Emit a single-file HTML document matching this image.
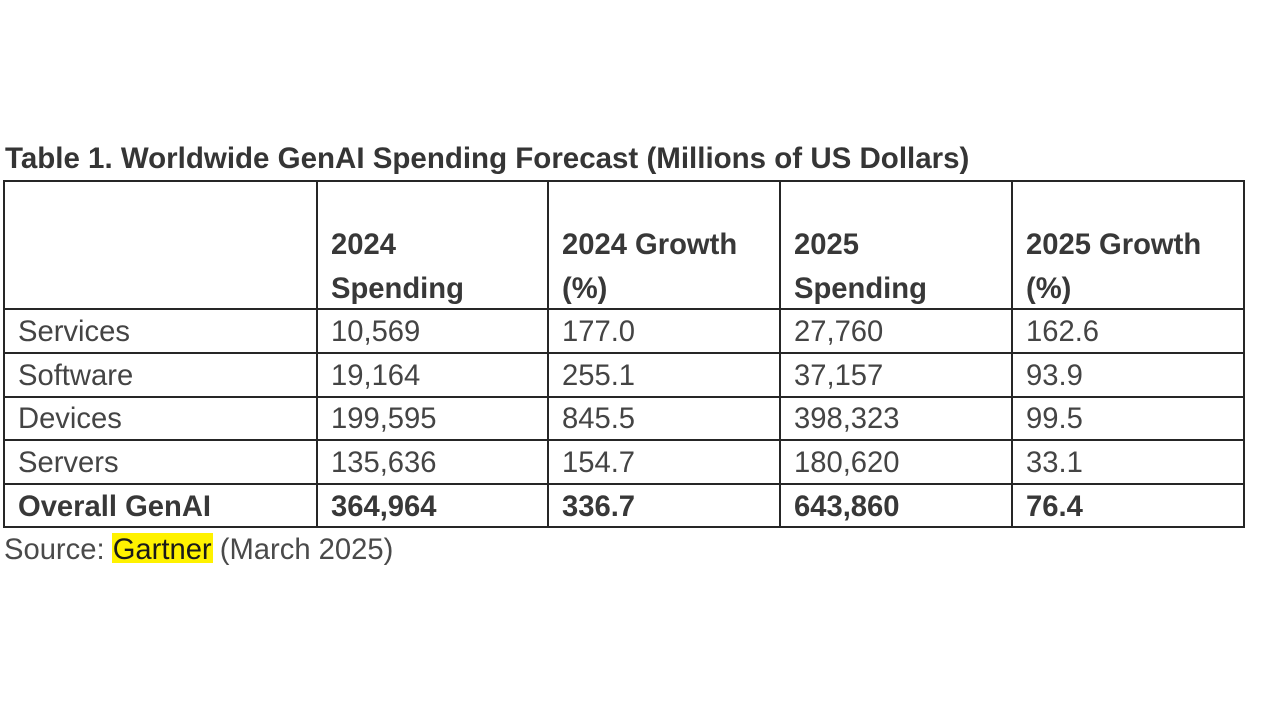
<!DOCTYPE html>
<html>
<head>
<meta charset="utf-8">
<style>
  html,body{margin:0;padding:0;background:#fff;}
  body{width:1280px;height:720px;position:relative;overflow:hidden;font-family:"Liberation Sans",Arial,sans-serif;}
  .h{position:absolute;height:2px;background:#262626;}
  .v{position:absolute;width:2px;background:#262626;}
  .t{position:absolute;font-size:29.2px;line-height:44px;color:#444;white-space:nowrap;}
  .b{font-weight:bold;color:#383838;}
  .title{position:absolute;left:5px;top:137px;font-size:29.5px;line-height:44px;font-weight:bold;color:#353535;white-space:nowrap;}
  .hl{position:absolute;left:112px;top:533px;width:101px;height:30px;background:#fff200;}
</style>
</head>
<body>
<div class="title">Table 1. Worldwide GenAI Spending Forecast (Millions of US Dollars)</div>

<!-- horizontal lines -->
<div class="h" style="left:3px;width:1242px;top:180px;"></div>
<div class="h" style="left:3px;width:1242px;top:308px;"></div>
<div class="h" style="left:3px;width:1242px;top:351.5px;"></div>
<div class="h" style="left:3px;width:1242px;top:395.5px;"></div>
<div class="h" style="left:3px;width:1242px;top:439px;"></div>
<div class="h" style="left:3px;width:1242px;top:483px;"></div>
<div class="h" style="left:3px;width:1242px;top:526px;"></div>
<!-- vertical lines -->
<div class="v" style="left:3px;top:180px;height:348px;"></div>
<div class="v" style="left:315.5px;top:180px;height:348px;"></div>
<div class="v" style="left:546.5px;top:180px;height:348px;"></div>
<div class="v" style="left:778.5px;top:180px;height:348px;"></div>
<div class="v" style="left:1010.5px;top:180px;height:348px;"></div>
<div class="v" style="left:1242.5px;top:180px;height:348px;"></div>

<!-- header -->
<div class="t b" style="left:331px;top:222.5px;">2024</div>
<div class="t b" style="left:331px;top:266.5px;">Spending</div>
<div class="t b" style="left:562px;top:222.5px;">2024 Growth</div>
<div class="t b" style="left:562px;top:266.5px;">(%)</div>
<div class="t b" style="left:794px;top:222.5px;">2025</div>
<div class="t b" style="left:794px;top:266.5px;">Spending</div>
<div class="t b" style="left:1026px;top:222.5px;">2025 Growth</div>
<div class="t b" style="left:1026px;top:266.5px;">(%)</div>

<!-- rows -->
<div class="t" style="left:18px;top:310px;">Services</div>
<div class="t" style="left:331px;top:310px;">10,569</div>
<div class="t" style="left:562px;top:310px;">177.0</div>
<div class="t" style="left:794px;top:310px;">27,760</div>
<div class="t" style="left:1026px;top:310px;">162.6</div>

<div class="t" style="left:18px;top:353.5px;">Software</div>
<div class="t" style="left:331px;top:353.5px;">19,164</div>
<div class="t" style="left:562px;top:353.5px;">255.1</div>
<div class="t" style="left:794px;top:353.5px;">37,157</div>
<div class="t" style="left:1026px;top:353.5px;">93.9</div>

<div class="t" style="left:18px;top:397px;">Devices</div>
<div class="t" style="left:331px;top:397px;">199,595</div>
<div class="t" style="left:562px;top:397px;">845.5</div>
<div class="t" style="left:794px;top:397px;">398,323</div>
<div class="t" style="left:1026px;top:397px;">99.5</div>

<div class="t" style="left:18px;top:440.5px;">Servers</div>
<div class="t" style="left:331px;top:440.5px;">135,636</div>
<div class="t" style="left:562px;top:440.5px;">154.7</div>
<div class="t" style="left:794px;top:440.5px;">180,620</div>
<div class="t" style="left:1026px;top:440.5px;">33.1</div>

<div class="t b" style="left:18px;top:484.5px;">Overall GenAI</div>
<div class="t b" style="left:331px;top:484.5px;">364,964</div>
<div class="t b" style="left:562px;top:484.5px;">336.7</div>
<div class="t b" style="left:794px;top:484.5px;">643,860</div>
<div class="t b" style="left:1026px;top:484.5px;">76.4</div>

<!-- source -->
<div class="hl"></div>
<div class="t" style="left:4px;top:528px;color:#4a4a4a;">Source: <span style="color:#1a1a1a;">Gartner</span> (March 2025)</div>
</body>
</html>
